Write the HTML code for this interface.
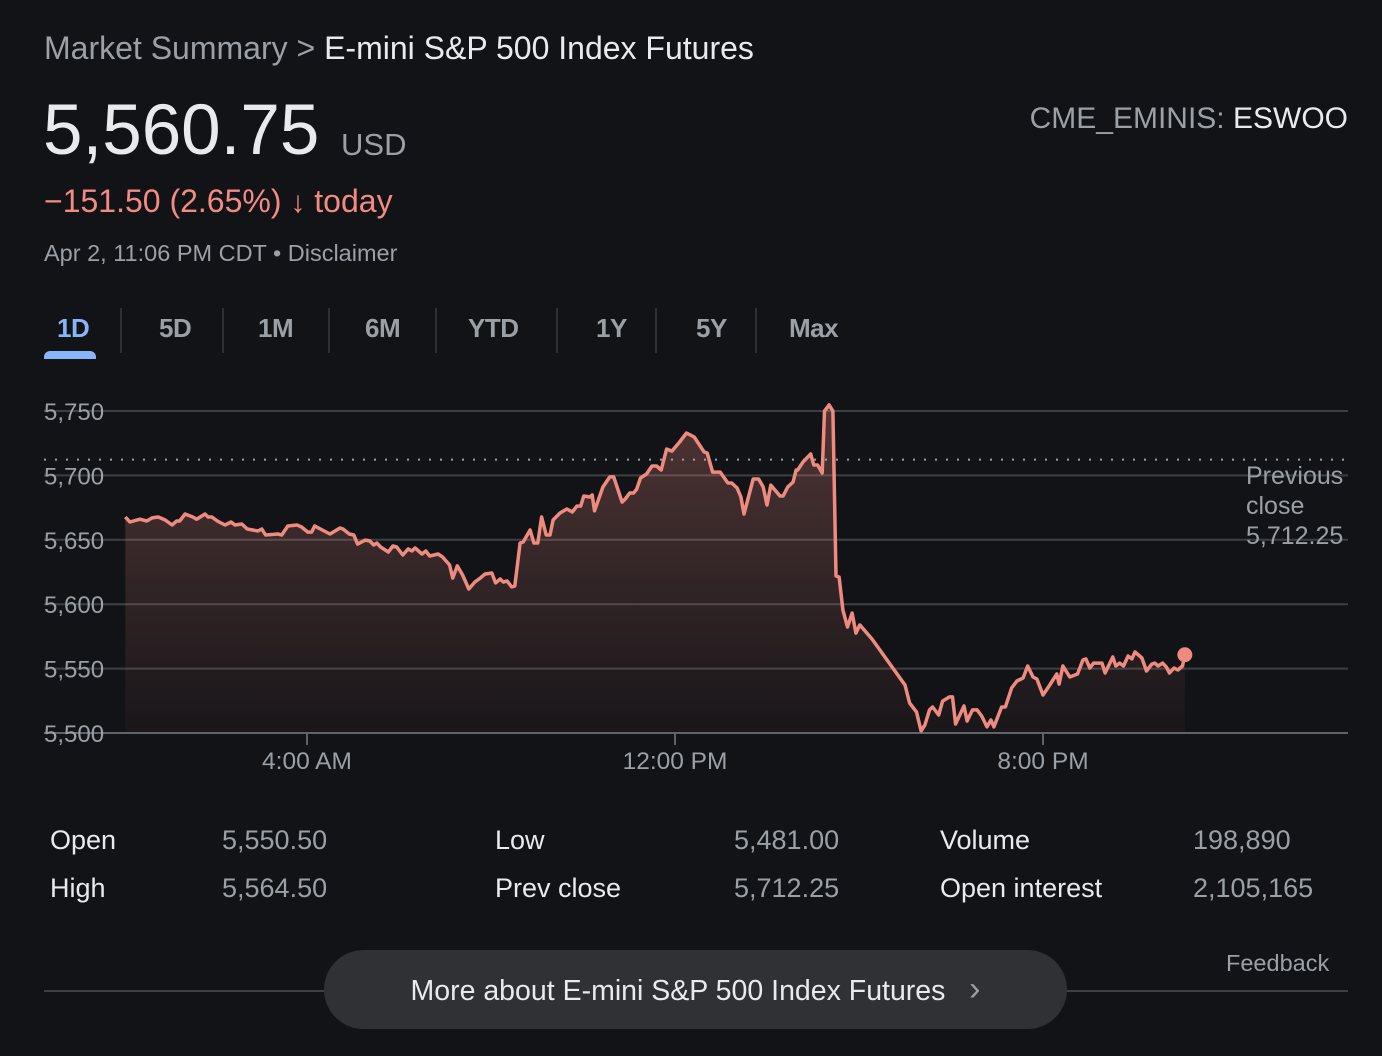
<!DOCTYPE html>
<html><head><meta charset="utf-8">
<style>
body{margin:0;width:1382px;height:1056px;background:#121317;font-family:"Liberation Sans",Arial,sans-serif;overflow:hidden;position:relative;color:#e8eaed}
.a{position:absolute;white-space:nowrap}
.g{color:#9aa0a6}
.tab{position:absolute;top:313px;font-size:26px;font-weight:bold;color:#9aa0a6;letter-spacing:-0.5px}
.sep{position:absolute;top:308px;width:2px;height:45px;background:#2e3034}
.lbl{font-size:27px;color:#e8eaed}
.val{font-size:27px;color:#9aa0a6}
</style></head><body>
<div class="a" style="left:44px;top:30px;font-size:32px"><span class="g">Market Summary &gt; </span><span>E-mini S&amp;P 500 Index Futures</span></div>
<div class="a" style="left:43px;top:90px;font-size:71px">5,560.75</div>
<div class="a g" style="left:341px;top:127px;font-size:31px">USD</div>
<div class="a" style="right:34px;top:102px;font-size:30px"><span class="g">CME_EMINIS: </span>ESWOO</div>
<div class="a" style="left:44px;top:183px;font-size:32px;color:#f28b82">−151.50 (2.65%) <b style="font-size:30px">↓</b> today</div>
<div class="a g" style="left:44px;top:240px;font-size:23.5px">Apr 2, 11:06 PM CDT • <span>Disclaimer</span></div>

<div class="tab" style="left:57px;color:#8ab4f8">1D</div>
<div class="a" style="left:44px;top:351px;width:52px;height:8px;background:#8ab4f8;border-radius:6px 6px 0 0"></div>
<div class="sep" style="left:120px"></div>
<div class="tab" style="left:159px">5D</div>
<div class="sep" style="left:222px"></div>
<div class="tab" style="left:258px">1M</div>
<div class="sep" style="left:328px"></div>
<div class="tab" style="left:365px">6M</div>
<div class="sep" style="left:435px"></div>
<div class="tab" style="left:468px">YTD</div>
<div class="sep" style="left:556px"></div>
<div class="tab" style="left:596px">1Y</div>
<div class="sep" style="left:655px"></div>
<div class="tab" style="left:696px">5Y</div>
<div class="sep" style="left:755px"></div>
<div class="tab" style="left:789px">Max</div>

<svg id="chart" class="a" style="left:0;top:0" width="1382" height="800"></svg>

<div class="a lbl" style="left:50px;top:825px">Open</div>
<div class="a val" style="left:222px;top:825px">5,550.50</div>
<div class="a lbl" style="left:50px;top:873px">High</div>
<div class="a val" style="left:222px;top:873px">5,564.50</div>
<div class="a lbl" style="left:495px;top:825px">Low</div>
<div class="a val" style="left:734px;top:825px">5,481.00</div>
<div class="a lbl" style="left:495px;top:873px">Prev close</div>
<div class="a val" style="left:734px;top:873px">5,712.25</div>
<div class="a lbl" style="left:940px;top:825px">Volume</div>
<div class="a val" style="left:1193px;top:825px">198,890</div>
<div class="a lbl" style="left:940px;top:873px">Open interest</div>
<div class="a val" style="left:1193px;top:873px">2,105,165</div>

<div class="a g" style="left:1226px;top:950px;font-size:23.5px">Feedback</div>
<div class="a" style="left:44px;top:990px;width:1304px;height:2px;background:#3c4043"></div>
<div class="a" style="left:324px;top:950px;width:743px;height:79px;border-radius:40px;background:#303134;font-size:28.5px;line-height:79px;text-align:center;color:#e8eaed">More about E-mini S&amp;P 500 Index Futures&nbsp;&nbsp;&nbsp;<span style="color:#9aa0a6;font-size:34px">›</span></div>

<script>
const times=[3,9,22,31,38,46,55,64,70,74,81,91,96,107,111,116,123,133,141,146,155,162,176,181,186,202,207,215,227,233,241,246,250,260,270,283,287,295,301,306,316,322,327,331,336,346,352,357,365,372,377,381,390,395,400,411,417,426,430,436,443,451,459,466,472,481,486,492,496,501,507,511,518,522,531,536,541,546,552,557,561,570,579,586,592,597,601,609,612,615,626,635,640,651,655,661,666,670,675,683,690,696,702,709,716,726,735,745,758,762,769,779,789,794,801,806,810,822,829,835,840,845,857,861,867,874,878,880,887,897,901,906,912,915,921,926,930,934,939,945,951,956,961,977,1020,1026,1035,1041,1046,1052,1056,1064,1069,1078,1082,1086,1097,1101,1108,1114,1120,1127,1132,1136,1146,1151,1159,1166,1174,1180,1187,1192,1200,1208,1218,1221,1226,1235,1245,1252,1256,1261,1266,1277,1281,1291,1295,1300,1305,1311,1316,1320,1329,1335,1342,1346,1350,1356,1361,1365,1371,1376,1382,1385];
const prices=[5667.7,5663.8,5666,5664.6,5667,5667.7,5665.4,5661.5,5664.6,5664.6,5670,5667.7,5666,5670,5667.7,5667.7,5664.6,5661.5,5663.8,5661.5,5662.3,5658.4,5656.8,5658.4,5653.7,5654.5,5653.7,5660.7,5661.5,5659.9,5656,5656,5660.7,5657.6,5654.5,5659.2,5658.4,5654.5,5653.7,5646.7,5649.8,5649.1,5646,5647.5,5644.4,5640.5,5645.2,5644.4,5638.2,5642.9,5641.3,5643.6,5639,5641.3,5637.4,5639,5636.6,5630.4,5620.3,5629.7,5622.7,5611.8,5617.2,5620.3,5623.4,5624.2,5616.5,5619.6,5617.2,5618,5613.4,5614.1,5647.5,5648.3,5657.6,5647.5,5647.5,5667.7,5653.7,5653.7,5665.4,5670.8,5673.9,5671.6,5676.2,5676.2,5684,5683.2,5684.8,5672.4,5691,5698.8,5698.8,5679.3,5681.7,5686.3,5686.3,5689.4,5698,5701.1,5707.3,5707.3,5704.2,5720.5,5718.9,5725.9,5732.9,5729.8,5718.2,5717.4,5702.6,5702.6,5694.1,5694.1,5690.2,5683.2,5670,5697.2,5697.2,5691,5677,5692.5,5684,5684,5691,5694.9,5704.2,5704.2,5710.4,5716.6,5708.1,5708.1,5701.9,5750,5754.7,5750,5621.9,5621.1,5595.5,5582.3,5593.2,5577.6,5583.9,5573,5537.3,5523.3,5516.3,5501.6,5506.2,5517.9,5520.2,5514,5524.8,5528,5528,5507,5521,5509.3,5517.9,5517.9,5513.2,5504.7,5510.1,5504.7,5520.2,5520.2,5534.9,5540.4,5542.7,5552,5543.5,5541.9,5529.5,5536.5,5545.8,5538,5552,5543.5,5545.8,5556.7,5557.5,5550.5,5554.3,5554.3,5546.6,5559,5552,5554.3,5552,5559.8,5557.5,5562.9,5558.2,5548.1,5553.6,5554.3,5552,5554.3,5551.2,5546.6,5550.5,5548.9,5552,5560.75];
const yTicks=[5500,5550,5600,5650,5700,5750];
const yTickLabels=["5,500","5,550","5,600","5,650","5,700","5,750"];
const xTicks=[240,720,1200];
const xTickLabels=["4:00 AM","12:00 PM","8:00 PM"];
const prevClose=[5712.25];

const NS="http://www.w3.org/2000/svg";
const svg=document.getElementById('chart');
const X=t=>307+(t-240)*46/60;
const Y=v=>733-(v-5500)*1.288;
function mk(tag,attrs){const e=document.createElementNS(NS,tag);for(const k in attrs)e.setAttribute(k,attrs[k]);svg.appendChild(e);return e;}
const defs=mk('defs',{});
defs.innerHTML='<linearGradient id="fg" x1="0" y1="0" x2="0" y2="1"><stop offset="0" stop-color="#ee8b7e" stop-opacity="0.28"/><stop offset="1" stop-color="#ee8b7e" stop-opacity="0.03"/></linearGradient>';
yTicks.forEach((v,i)=>{
  const l=mk('line',{x1:44,x2:1348,y1:Y(v),y2:Y(v),stroke:i==0?'#5f6368':'#3c4043','stroke-width':2});
  
  
  const t=mk('text',{x:44,y:Y(v)+9,fill:'#9aa0a6','font-size':24,'font-family':'Liberation Sans, sans-serif'});
  t.textContent=yTickLabels[i];
  
  
});
xTicks.forEach((m,i)=>{
  const l=mk('line',{x1:X(m),x2:X(m),y1:733,y2:745,stroke:'#5f6368','stroke-width':2});
  
  
  const t=mk('text',{x:X(m),y:769,fill:'#9aa0a6','font-size':24.5,'text-anchor':'middle','font-family':'Liberation Sans, sans-serif'});
  t.textContent=xTickLabels[i];
  
  
});
const pc=mk('line',{x1:44,x2:1348,y1:Y(prevClose[0]),y2:Y(prevClose[0]),stroke:'#9aa0a6','stroke-width':2,'stroke-dasharray':'2 9'});


['Previous','close','5,712.25'].forEach((s,i)=>{
  const t=mk('text',{x:1246,y:484+i*30,fill:'#9aa0a6','font-size':25,'font-family':'Liberation Sans, sans-serif'});
  t.textContent=s;
  
  
});
let d='';
times.forEach((t,i)=>{d+=(i?'L':'M')+X(t).toFixed(1)+' '+Y(prices[i]).toFixed(1)});
const area=mk('path',{d:d+'L'+X(times[times.length-1]).toFixed(1)+' 733L'+X(times[0]).toFixed(1)+' 733Z',fill:'url(#fg)'});


const line=mk('path',{d:d,fill:'none',stroke:'#ee8b7e','stroke-width':3.5,'stroke-linejoin':'round'});


const n=times.length-1;
const dot=mk('circle',{cx:X(times[n]),cy:Y(prices[n]),r:7.5,fill:'#ee8b7e'});


</script>
</body></html>
